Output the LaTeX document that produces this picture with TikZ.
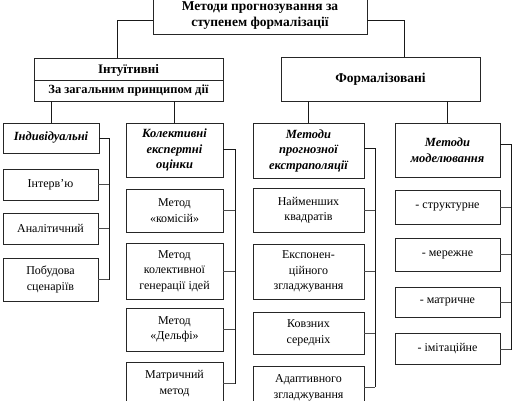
\documentclass[tikz,border=0pt]{standalone}
\usepackage{fontspec}
\setmainfont{Liberation Serif}
\begin{document}
\begin{tikzpicture}[x=1pt,y=-1pt,
  box/.style={draw=black!85, line width=0.7pt, inner sep=0pt, align=center, font=\fontsize{12}{15.5}\selectfont, text=black},
  hd/.style={box, font=\fontsize{12.5}{15.5}\selectfont\bfseries\itshape},
  bd/.style={box, font=\fontsize{13.5}{16}\selectfont\bfseries},
  conn/.style={draw=black!90, line width=1pt},
  tick/.style={draw=black!70, line width=0.6pt}]
\useasboundingbox (0,0) rectangle (514,400);
\clip (0,0) rectangle (514,400);
\fill[white] (0,0) rectangle (514,400);

% top
\node[bd, minimum width=214pt, minimum height=37pt] (top) at (260,15.5) {Методи прогнозування за\\ступенем формалізації};

% intuitive
\node[box, minimum width=189pt, minimum height=43pt] (intu) at (128.5,79.5) {};
\draw[draw=black!85, line width=0.7pt] (intu.west |- 0,80) -- (intu.east |- 0,80);
\node[font=\fontsize{13}{15.5}\selectfont\bfseries, inner sep=0pt] (intuA) at (128.5,70) {Інтуїтивні};
\node[font=\fontsize{12.5}{15.5}\selectfont\bfseries, inner sep=0pt] (intuB) at (128.5,90) {За загальним принципом дії};

% formalized
\node[bd, minimum width=199pt, minimum height=44pt] (form) at (380.5,79) {Формалізовані};

% level 2
\node[hd, minimum width=96pt, minimum height=30pt] (ind) at (51,138) {Індивідуальні};
\node[hd, minimum width=97pt, minimum height=54pt] (col) at (174.5,150) {Колективні\\експертні\\оцінки};
\node[hd, minimum width=111pt, minimum height=55pt] (ext) at (308.5,150.5) {Методи\\прогнозної\\екстраполяції};
\node[hd, minimum width=105pt, minimum height=54pt] (mod) at (447.5,150) {Методи\\моделювання};

% individual children
\node[box, minimum width=95pt, minimum height=31pt] (ind1) at (50.5,184.5) {Інтерв’ю};
\node[box, minimum width=95pt, minimum height=31pt] (ind2) at (50.5,228.5) {Аналітичний};
\node[box, minimum width=95pt, minimum height=43pt] (ind3) at (50.5,279.5) {Побудова\\сценаріїв};

% collective children
\node[box, minimum width=97pt, minimum height=43pt] (col1) at (174.5,210.5) {Метод\\«комісій»};
\node[box, minimum width=97pt, minimum height=56pt] (col2) at (174.5,271) {Метод\\колективної\\генерації ідей};
\node[box, minimum width=97pt, minimum height=43pt] (col3) at (174.5,329.5) {Метод\\«Дельфі»};
\node[box, minimum width=97pt, minimum height=43pt] (col4) at (174.5,383.5) {Матричний\\метод};

% extrapolation children
\node[box, minimum width=111pt, minimum height=44pt] (ext1) at (308.5,210) {Найменших\\квадратів};
\node[box, minimum width=111pt, minimum height=55pt] (ext2) at (308.5,271.5) {Експонен-\\ційного\\згладжування};
\node[box, minimum width=111pt, minimum height=42pt] (ext3) at (308.5,333) {Ковзних\\середніх};
\node[box, minimum width=111pt, minimum height=44pt] (ext4) at (308.5,388) {Адаптивного\\згладжування};

% modelling children
\node[box, minimum width=105pt, minimum height=34pt] (mod1) at (447.5,207) {- структурне};
\node[box, minimum width=105pt, minimum height=33pt] (mod2) at (447.5,254.5) {- мережне};
\node[box, minimum width=105pt, minimum height=30pt] (mod3) at (447.5,302) {- матричне};
\node[box, minimum width=105pt, minimum height=31pt] (mod4) at (447.5,348.5) {- імітаційне};

% top connectors
\draw[conn] ([yshift=-4.5pt]top.west) -| ([xshift=-11.5pt]intu.north);
\draw[conn] ([yshift=-4.5pt]top.east) -| ([xshift=23.5pt]form.north);
\draw[conn] (intu.south -| ind.north) -- (ind.north);
\draw[conn] (intu.south -| col.north) -- (col.north);
\draw[conn] (form.south -| ext.north) -- (ext.north);
\draw[conn] (form.south -| mod.north) -- (mod.north);

% bus coordinates
\coordinate (indx) at (109,0);
\coordinate (colx) at (235,0);
\coordinate (extx) at (375,0);
\coordinate (modx) at (511,0);

\draw[conn] (ind.east) -| (indx |- ind3.east);
\foreach \n in {ind1,ind2,ind3} \draw[tick] (\n.east) -- (indx |- \n.east);

\draw[conn] ([yshift=1pt]col.east) -| (colx |- col4.east);
\foreach \n in {col1,col2,col3,col4} \draw[tick] (\n.east) -- (colx |- \n.east);

\draw[conn] ([yshift=2pt]ext.east) -| ([yshift=1pt]extx |- ext4.east);
\foreach \n in {ext1,ext2,ext3} \draw[tick] (\n.east) -- (extx |- \n.east);
\draw[tick] ([yshift=1pt]ext4.east) -- ([yshift=1pt]extx |- ext4.east);

\draw[conn] ([yshift=6pt]mod.east) -| ([yshift=-1pt]modx |- mod4.east);
\foreach \n in {mod1,mod2,mod3} \draw[tick] (\n.east) -- (modx |- \n.east);
\draw[tick] ([yshift=-1pt]mod4.east) -- ([yshift=-1pt]modx |- mod4.east);
\end{tikzpicture}
\end{document}
